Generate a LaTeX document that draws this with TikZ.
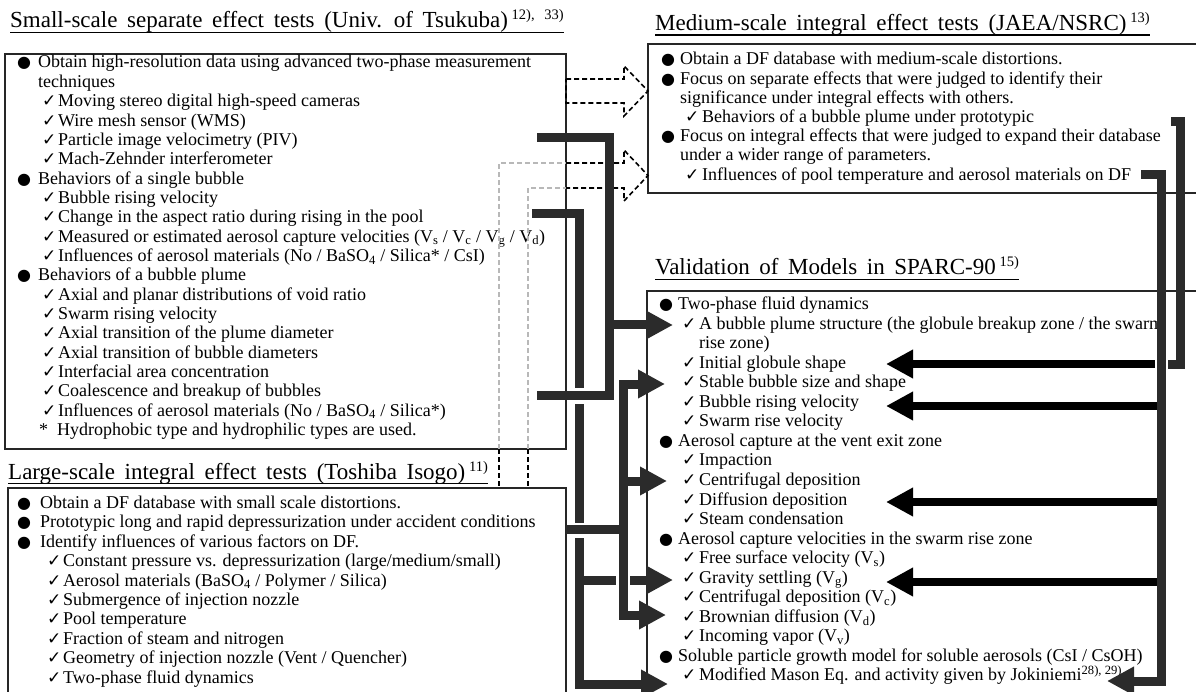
\documentclass[tikz,border=0pt]{standalone}
\usepackage{fontspec}
\setmainfont{Liberation Serif}
\newfontfamily\symfont{DejaVu Sans}
\usetikzlibrary{arrows.meta}
\definecolor{conncol}{HTML}{2B2B2B}
\definecolor{ghost}{HTML}{B8B8B8}
% list markers set in a fixed-width box so the item text starts at a known x
\newcommand\itembul[1]{\makebox[#1][l]{\symfont\fontsize{16}{16}\selectfont ●}}
\newcommand\itemchk[1]{\makebox[#1][l]{\symfont\fontsize{17}{17}\selectfont ✓}}
\newcommand\refmark[1]{\,\raisebox{8pt}{\fontsize{14.5}{14.5}\selectfont #1}}
\newcommand\widewords{\spaceskip=0.42em plus 0.1em\relax}
\begin{document}
\begin{tikzpicture}[x=1pt,y=-1pt,
  ln/.style={anchor=base west, inner sep=0pt, font=\fontsize{18}{20}\selectfont},
  ttl/.style={anchor=base west, inner sep=0pt, font=\fontsize{23}{26}\selectfont},
  frame/.style={draw=black!85, line width=1.3pt},
  ulin/.style={draw=black, line width=1.3pt},
  conn/.style={draw=conncol, line width=9pt, line join=miter},
  blk/.style={draw=black, line width=8pt},
  head/.style={-{Triangle[length=27pt,width=27pt]}},
  dsh/.style={draw=black, line width=1.6pt, dash pattern=on 5pt off 3pt},
  gdsh/.style={draw=ghost, line width=1.6pt, dash pattern=on 5pt off 3pt}]
\useasboundingbox (0,0) rectangle (1196,692);

% ---------- titles ----------
\node[ttl] (t1) at (10,28) {\widewords Small-scale separate effect tests (Univ. of Tsukuba)\refmark{12), 33)}};
\node[ttl] (t2) at (8,479) {\widewords Large-scale integral effect tests (Toshiba Isogo)\refmark{11)}};
\node[ttl] (t3) at (655,30.5) {\widewords Medium-scale integral effect tests (JAEA/NSRC)\refmark{13)}};
\node[ttl] (t4) at (655,275) {\widewords Validation of Models in SPARC-90\refmark{15)}};
\foreach \t in {t1,t2,t3,t4}
  \draw[ulin] ([yshift=-4.5pt]\t.base west) -- ([yshift=-4.5pt]\t.base east);

% ---------- frames ----------
\draw[frame] (5,54) rectangle (566,449);
\draw[frame] (8,720) -- (8,488) -- (566,488) -- (566,720);
\draw[frame] (1250,44) -- (648,44) -- (648,193) -- (1250,193);
\draw[frame] (1250,291) -- (647,291) -- (647,720);

% ---------- small-scale separate effect tests ----------
\node[ln] (s0)  at (17,68)     {\itembul{21pt}Obtain high-resolution data using advanced two-phase measurement};
\node[ln] (s1)  at (38,87.35)  {techniques};
\node[ln] (s2)  at (42,106.7)  {\itemchk{16pt}Moving stereo digital high-speed cameras};
\node[ln] (s3)  at (42,126.05) {\itemchk{16pt}Wire mesh sensor (WMS)};
\node[ln] (s4)  at (42,145.4)  {\itemchk{16pt}Particle image velocimetry (PIV)};
\node[ln] (s5)  at (42,164.75) {\itemchk{16pt}Mach-Zehnder interferometer};
\node[ln] (s6)  at (17,184.1)  {\itembul{21pt}Behaviors of a single bubble};
\node[ln] (s7)  at (42,203.45) {\itemchk{16pt}Bubble rising velocity};
\node[ln] (s8)  at (42,222.8)  {\itemchk{16pt}Change in the aspect ratio during rising in the pool};
\node[ln] (s9)  at (42,242.15) {\itemchk{16pt}Measured or estimated aerosol capture velocities (V\textsubscript{s} / V\textsubscript{c} / V\textsubscript{g} / V\textsubscript{d})};
\node[ln] (s10) at (42,261.5)  {\itemchk{16pt}Influences of aerosol materials (No / BaSO\textsubscript{4} / Silica* / CsI)};
\node[ln] (s11) at (17,280.85) {\itembul{21pt}Behaviors of a bubble plume};
\node[ln] (s12) at (42,300.2)  {\itemchk{16pt}Axial and planar distributions of void ratio};
\node[ln] (s13) at (42,319.55) {\itemchk{16pt}Swarm rising velocity};
\node[ln] (s14) at (42,338.9)  {\itemchk{16pt}Axial transition of the plume diameter};
\node[ln] (s15) at (42,358.25) {\itemchk{16pt}Axial transition of bubble diameters};
\node[ln] (s16) at (42,377.6)  {\itemchk{16pt}Interfacial area concentration};
\node[ln] (s17) at (42,396.95) {\itemchk{16pt}Coalescence and breakup of bubbles};
\node[ln] (s18) at (42,416.3)  {\itemchk{16pt}Influences of aerosol materials (No / BaSO\textsubscript{4} / Silica*)};
\node[ln] (s19) at (39,435.65) {\makebox[18pt][l]{*}Hydrophobic type and hydrophilic types are used.};

% ---------- large-scale integral effect tests ----------
\node[ln] (l0) at (17,508.5)  {\itembul{23pt}Obtain a DF database with small scale distortions.};
\node[ln] (l1) at (17,527.9)  {\itembul{23pt}Prototypic long and rapid depressurization under accident conditions};
\node[ln] (l2) at (17,547.3)  {\itembul{23pt}Identify influences of various factors on DF.};
\node[ln] (l3) at (47,566.7)  {\itemchk{16pt}Constant pressure vs. depressurization (large/medium/small)};
\node[ln] (l4) at (47,586.1)  {\itemchk{16pt}Aerosol materials (BaSO\textsubscript{4} / Polymer / Silica)};
\node[ln] (l5) at (47,605.5)  {\itemchk{16pt}Submergence of injection nozzle};
\node[ln] (l6) at (47,624.9)  {\itemchk{16pt}Pool temperature};
\node[ln] (l7) at (47,644.3)  {\itemchk{16pt}Fraction of steam and nitrogen};
\node[ln] (l8) at (47,663.7)  {\itemchk{16pt}Geometry of injection nozzle (Vent / Quencher)};
\node[ln] (l9) at (47,683.1)  {\itemchk{16pt}Two-phase fluid dynamics};

% ---------- medium-scale integral effect tests ----------
\node[ln] (m0) at (661,65)    {\itembul{19pt}Obtain a DF database with medium-scale distortions.};
\node[ln] (m1) at (661,84.2)  {\itembul{19pt}Focus on separate effects that were judged to identify their};
\node[ln] (m2) at (680,103.4) {significance under integral effects with others.};
\node[ln] (m3) at (685,122.6) {\itemchk{17pt}Behaviors of a bubble plume under prototypic};
\node[ln] (m4) at (661,141.8) {\itembul{19pt}Focus on integral effects that were judged to expand their database};
\node[ln] (m5) at (680,161)   {under a wider range of parameters.};
\node[ln] (m6) at (685,180.2) {\itemchk{17pt}Influences of pool temperature and aerosol materials on DF};

% ---------- validation of models ----------
\node[ln] (v0)  at (659,309.5)  {\itembul{19pt}Two-phase fluid dynamics};
\begin{scope}
  \clip (640,300) rectangle (1157,345);
  \node[ln] (v1) at (682,329.05) {\itemchk{17pt}A bubble plume structure (the globule breakup zone / the swarm};
\end{scope}
\node[ln] (v2)  at (699,348.6)  {rise zone)};
\node[ln] (v3)  at (682,368.15) {\itemchk{17pt}Initial globule shape};
\node[ln] (v4)  at (682,387.7)  {\itemchk{17pt}Stable bubble size and shape};
\node[ln] (v5)  at (682,407.25) {\itemchk{17pt}Bubble rising velocity};
\node[ln] (v6)  at (682,426.8)  {\itemchk{17pt}Swarm rise velocity};
\node[ln] (v7)  at (659,446.35) {\itembul{19pt}Aerosol capture at the vent exit zone};
\node[ln] (v8)  at (682,465.9)  {\itemchk{17pt}Impaction};
\node[ln] (v9)  at (682,485.45) {\itemchk{17pt}Centrifugal deposition};
\node[ln] (v10) at (682,505)    {\itemchk{17pt}Diffusion deposition};
\node[ln] (v11) at (682,524.55) {\itemchk{17pt}Steam condensation};
\node[ln] (v12) at (659,544.1)  {\itembul{19pt}Aerosol capture velocities in the swarm rise zone};
\node[ln] (v13) at (682,563.65) {\itemchk{17pt}Free surface velocity (V\textsubscript{s})};
\node[ln] (v14) at (682,583.2)  {\itemchk{17pt}Gravity settling (V\textsubscript{g})};
\node[ln] (v15) at (682,602.75) {\itemchk{17pt}Centrifugal deposition (V\textsubscript{c})};
\node[ln] (v16) at (682,622.3)  {\itemchk{17pt}Brownian diffusion (V\textsubscript{d})};
\node[ln] (v17) at (682,641.85) {\itemchk{17pt}Incoming vapor (V\textsubscript{v})};
\node[ln] (v18) at (659,661.4)  {\itembul{19pt}Soluble particle growth model for soluble aerosols (CsI / CsOH)};
\node[ln] (v19) at (682,680.95) {\itemchk{17pt}Modified Mason Eq. and activity given by Jokiniemi\textsuperscript{28), 29)}};

% ---------- hollow dashed arrows towards the medium-scale tests ----------
\draw[dsh] (566,79) -- (624,79) -- (624,66) -- (648,91) -- (624,116) -- (624,103) -- (566,103) -- cycle;
\draw[gdsh] (499,449) -- (499,163) -- (566,163);
\draw[gdsh] (528,449) -- (528,188) -- (566,188);
\draw[dsh] (566,163) -- (624,163) -- (624,150) -- (648,175.5) -- (624,201) -- (624,188) -- (566,188);
\draw[dsh] (499,449) -- (499,488);
\draw[dsh] (528,449) -- (528,488);

% ---------- connector end points ----------
\coordinate (c1a) at (537,138);   \coordinate (c1b) at (537,395);   \coordinate (c1t) at (673,325);
\coordinate (c2a) at (532,214);   \coordinate (c2g) at (673,580);   \coordinate (c2t) at (668,684);
\coordinate (c3a) at (566,529);   \coordinate (c3s) at (665,384);
\coordinate (c3c) at (667,481);   \coordinate (c3b) at (666,615);
\coordinate (c4a) at (1141,175);  \coordinate (c4t) at (1107,681);
\coordinate (c5a) at (1171,122);
\coordinate (k3) at (886,364); \coordinate (k5) at (886,406);
\coordinate (k10) at (886,502); \coordinate (k14) at (886,582);

% bubble-rise / aspect-ratio items -> gravity settling and Mason model
\draw[conn] (c2a) -- (579,214) -- (579,388);
\draw[conn] (579,404) -- (579,523);
\draw[conn,head] (579,538) -- (579,684) -- (c2t);
\draw[conn] (579,580) -- (616,580);
\draw[conn,head] (630,580) -- (c2g);

% measurement techniques -> bubble plume structure
\draw[conn] (c1a) -- (609,138) -- (609,395) -- (c1b);
\draw[conn,head] (609,325) -- (c1t);

% large-scale tests -> bubble and capture models
\draw[conn] (c3a) -- (623,529);
\draw[conn,head] (623,529) -- (623,384) -- (c3s);
\draw[conn,head] (623,529) -- (623,615) -- (c3b);
\draw[conn,head] (623,481) -- (c3c);

% medium-scale tests -> validation items
\draw[blk,head] (1155,364) -- (k3);
\draw[blk,head] (1158,406) -- (k5);
\draw[blk,head] (1158,502) -- (k10);
\draw[blk,head] (1158,582) -- (k14);
\draw[conn,head] (c4a) -- (1161,175) -- (1161,681) -- (c4t);
\draw[conn] (c5a) -- (1180,122) -- (1180,364) -- (1168,364);
\end{tikzpicture}
\end{document}
